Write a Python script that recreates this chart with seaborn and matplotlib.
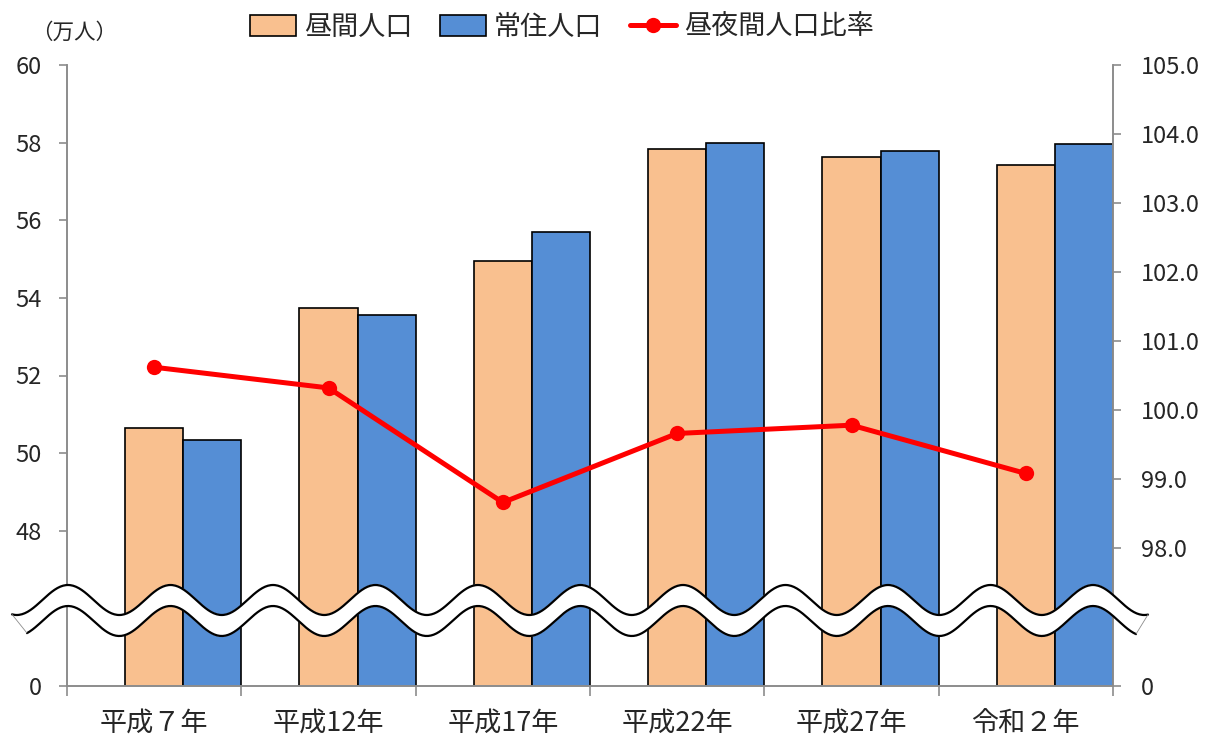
"""
昼間人口・常住人口と昼夜間人口比率
"""

import numpy as np
import pandas as pd
import matplotlib
matplotlib.use("Agg")
import matplotlib.pyplot as plt
from matplotlib.patches import Patch
from matplotlib.lines import Line2D
import seaborn as sns

years = ["平成７年", "平成12年", "平成17年", "平成22年", "平成27年", "令和２年"]
daytime_pop = [50.66, 53.75, 54.96, 57.83, 57.64, 57.42]    # 昼間人口（万人）
resident_pop = [50.35, 53.57, 55.70, 58.00, 57.78, 57.96]   # 常住人口（万人）
ratio = [100.62, 100.32, 98.66, 99.66, 99.78, 99.08]        # 昼夜間人口比率

left_ticks = [44, 48, 50, 52, 54, 56, 58, 60]
left_labels = ["0", "48", "50", "52", "54", "56", "58", "60"]
right_ticks = [96, 98, 99, 100, 101, 102, 103, 104, 105]
right_labels = ["0", "98.0", "99.0", "100.0", "101.0", "102.0", "103.0", "104.0", "105.0"]

ORANGE = "#F9C08F"
BLUE = "#558ED5"
RED = "#FF0000"
GRAY = "#8C8C8C"


def main():
    sns.set_theme(style="white")
    plt.rcParams["font.family"] = ["Noto Sans CJK JP", "DejaVu Sans"]

    df = pd.DataFrame({
        "year": years * 2,
        "value": daytime_pop + resident_pop,
        "series": ["昼間人口"] * len(years) + ["常住人口"] * len(years),
    })

    fig = plt.figure(figsize=(12.11, 7.38), dpi=100)
    ax = fig.add_axes([67 / 1211, 1 - 686 / 738, (1113 - 67) / 1211, (686 - 65) / 738])

    sns.barplot(data=df, x="year", y="value", hue="series",
                palette=[ORANGE, BLUE], width=0.667, edgecolor="black",
                linewidth=1.2, saturation=1, legend=False, ax=ax)

    # line sits on the centre of the orange bar
    xs = np.arange(len(years)) - 1 / 6
    ax2 = ax.twinx()
    sns.lineplot(x=xs, y=ratio, color=RED, lw=3.6, marker="o",
                 markersize=11, markeredgewidth=0, ax=ax2)

    ax.set_xlim(-2 / 3, len(years) - 2 / 3)
    ax.set_ylim(44, 60)
    ax2.set_ylim(96, 105)

    ax.set_xticks(np.arange(len(years) + 1) - 2 / 3)
    ax.set_xticklabels([])
    ax.set_xticks(xs, minor=True)
    ax.set_xticklabels(years, minor=True, fontsize=19.5)
    ax.tick_params(axis="x", which="major", direction="out", length=7,
                   width=1.2, color=GRAY, bottom=True)
    ax.tick_params(axis="x", which="minor", length=0, pad=17)
    ax.set_xlabel("")
    ax.set_ylabel("")

    ax.set_yticks(left_ticks)
    ax.set_yticklabels(left_labels, fontsize=17)
    ax.tick_params(axis="y", direction="out", length=6, width=1.2,
                   color=GRAY, left=True, pad=12)

    ax2.set_yticks(right_ticks)
    ax2.set_yticklabels(right_labels, fontsize=17)
    ax2.tick_params(axis="y", direction="out", length=6, width=1.2,
                    color=GRAY, right=True, pad=14)
    ax2.set_ylabel("")

    for a in (ax, ax2):
        a.spines["top"].set_visible(False)
        for s in ("left", "right", "bottom"):
            a.spines[s].set_color(GRAY)
            a.spines[s].set_linewidth(1.2)
        a.grid(False)

    fig.text(74 / 1211, 1 - 33 / 738, "（万人）", fontsize=15.5,
             ha="center", va="center")

    handles = [
        Patch(facecolor=ORANGE, edgecolor="black", linewidth=1.2),
        Patch(facecolor=BLUE, edgecolor="black", linewidth=1.2),
        Line2D([0], [0], color=RED, lw=3.6, marker="o", markersize=11,
               markeredgewidth=0),
    ]
    fig.legend(handles, ["昼間人口", "常住人口", "昼夜間人口比率"],
               loc="center", bbox_to_anchor=(0.464, 0.963), ncol=3,
               frameon=False, fontsize=19.5, handlelength=1.7,
               handleheight=0.8, handletextpad=0.3, columnspacing=1.0)

    # wavy axis break drawn over everything
    ov = fig.add_axes([0, 0, 1, 1])
    ov.set_xlim(0, 1211)
    ov.set_ylim(738, 0)
    ov.axis("off")
    period = 102.5
    xu = np.linspace(12, 1148, 800)
    yu = 600 - 15 * np.cos(2 * np.pi * (xu - 68) / period)
    xl = np.linspace(27, 1136, 800)
    yl = 621 - 15 * np.cos(2 * np.pi * (xl - 68) / period)
    ov.fill(np.concatenate([xu, xl[::-1]]), np.concatenate([yu, yl[::-1]]),
            color="white", zorder=5)
    ov.plot(xu, yu, color="black", lw=1.6, zorder=6)
    ov.plot(xl, yl, color="black", lw=1.6, zorder=6)
    ov.plot([xu[0], xl[0]], [yu[0], yl[0]], color=GRAY, lw=0.6, zorder=6)
    ov.plot([xu[-1], xl[-1]], [yu[-1], yl[-1]], color=GRAY, lw=0.6, zorder=6)

    fig.savefig("out.png", dpi=100)


if __name__ == "__main__":
    main()
